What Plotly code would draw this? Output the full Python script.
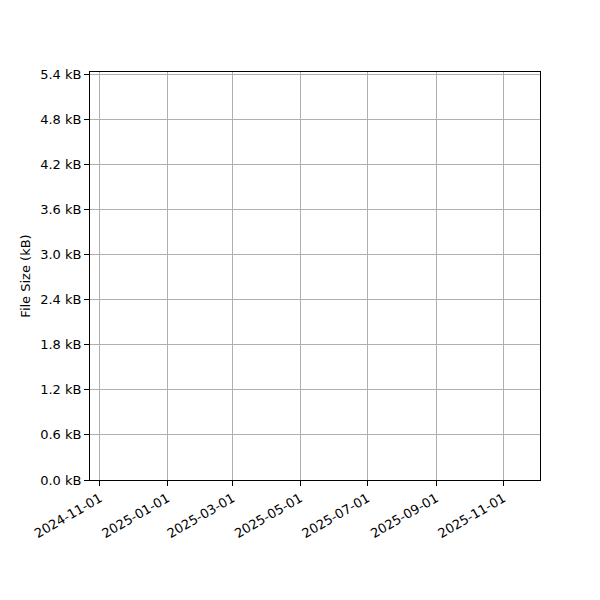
import plotly.graph_objects as go

# Data (the reference chart shows no plotted marks)
dates = []
sizes_kb = []

x_range = ["2024-10-23", "2025-12-04"]
y_range = [0, 5.427]
y_ticks = [0.0, 0.6, 1.2, 1.8, 2.4, 3.0, 3.6, 4.2, 4.8, 5.4]
y_tick_labels = [f"{v:.1f} kB" for v in y_ticks]

fig = go.Figure()
fig.add_trace(go.Scatter(x=dates, y=sizes_kb, mode="lines", line=dict(color="#1f77b4"), showlegend=False))

font = dict(family="DejaVu Sans", size=13, color="black")
fig.update_layout(
    width=600, height=600,
    margin=dict(l=82, r=68, t=64, b=128),
    paper_bgcolor="white", plot_bgcolor="white",
    font=font,
    showlegend=False,
)
fig.update_xaxes(
    type="date", range=x_range,
    tick0="2024-11-01", dtick="M2", tickformat="%Y-%m-%d",
    tickangle=-30, ticks="outside", ticklen=5, tickcolor="black", tickwidth=1,
    showgrid=True, gridcolor="#b0b0b0", gridwidth=1,
    showline=True, linecolor="black", linewidth=1, mirror=True,
    zeroline=False, tickfont=font,
)
fig.update_yaxes(
    range=y_range, tickmode="array", tickvals=y_ticks, ticktext=y_tick_labels,
    ticks="outside", ticklen=5, tickcolor="black", tickwidth=1,
    showgrid=True, gridcolor="#b0b0b0", gridwidth=1,
    showline=True, linecolor="black", linewidth=1, mirror=True,
    zeroline=False, tickfont=font,
    title=dict(text="File Size (kB)", font=font, standoff=6),
)

fig.write_html("out.html")
